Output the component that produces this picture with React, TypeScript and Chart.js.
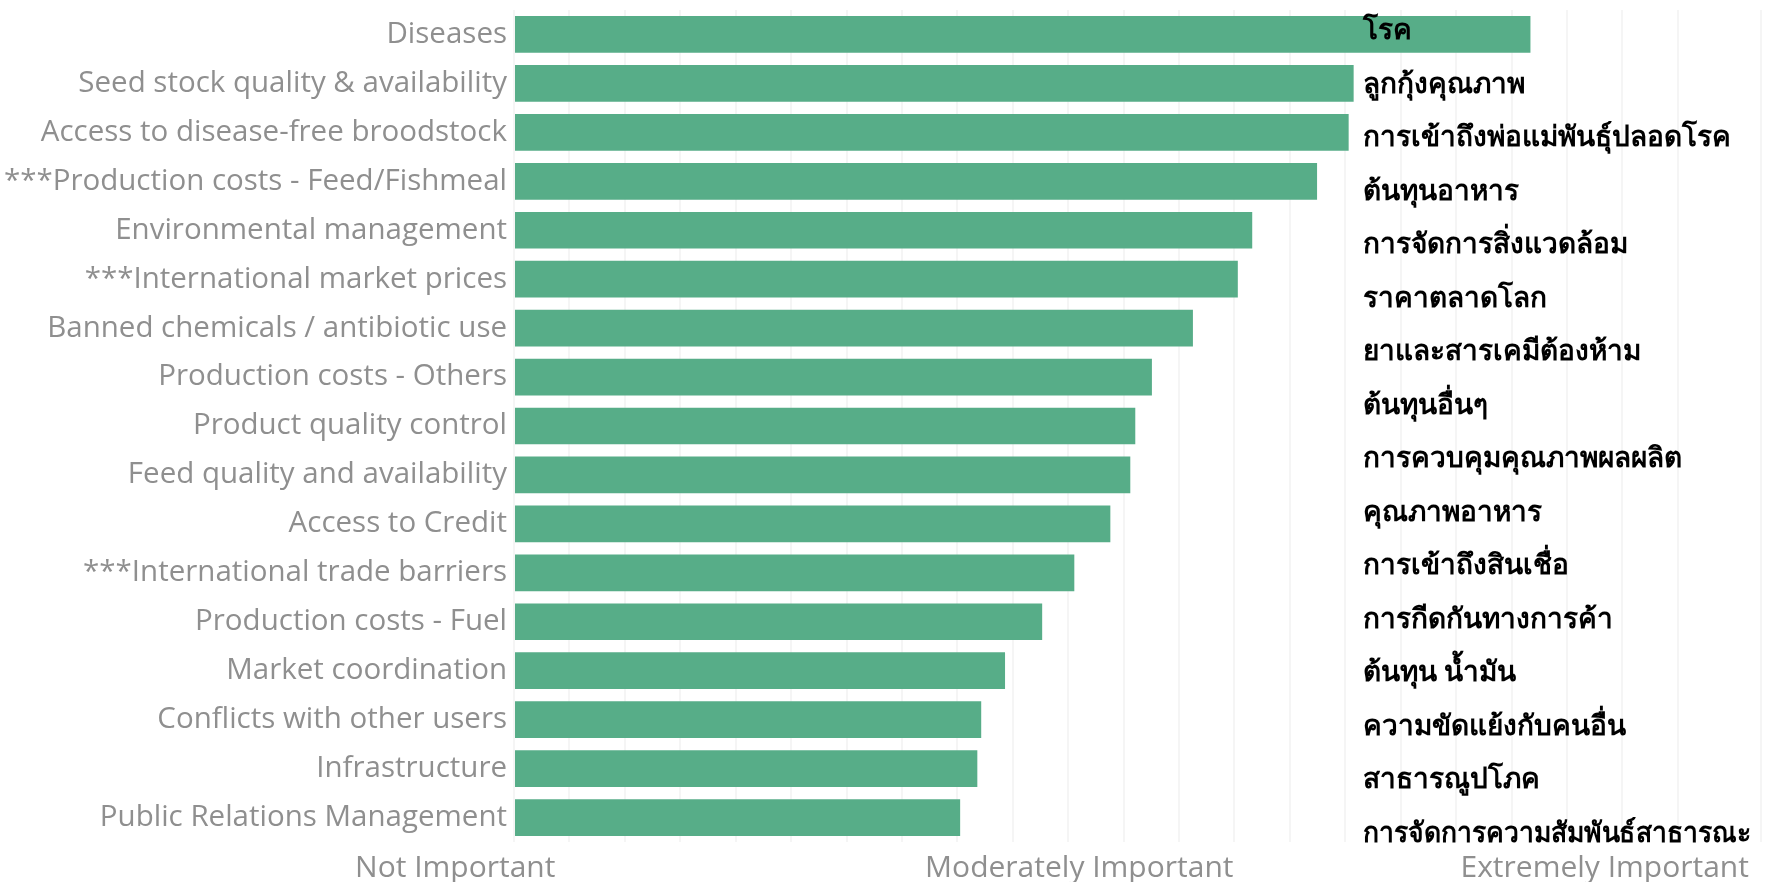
import React, { useEffect, useRef } from 'react';
import { Chart, registerables } from 'chart.js';

Chart.register(...registerables);

// Issues (English labels shown on the left axis)
const categories: string[] = [
  'Diseases',
  'Seed stock quality & availability',
  'Access to disease-free broodstock',
  '***Production costs - Feed/Fishmeal',
  'Environmental management',
  '***International market prices',
  'Banned chemicals / antibiotic use',
  'Production costs - Others',
  'Product quality control',
  'Feed quality and availability',
  'Access to Credit',
  '***International trade barriers',
  'Production costs - Fuel',
  'Market coordination',
  'Conflicts with other users',
  'Infrastructure',
  'Public Relations Management',
];

// Thai translations written over the chart (their own evenly spaced list)
const thaiLabels: string[] = [
  'โรค',
  'ลูกกุ้งคุณภาพ',
  'การเข้าถึงพ่อแม่พันธุ์ปลอดโรค',
  'ต้นทุนอาหาร',
  'การจัดการสิ่งแวดล้อม',
  'ราคาตลาดโลก',
  'ยาและสารเคมีต้องห้าม',
  'ต้นทุนอื่นๆ',
  'การควบคุมคุณภาพผลผลิต',
  'คุณภาพอาหาร',
  'การเข้าถึงสินเชื่อ',
  'การกีดกันทางการค้า',
  'ต้นทุน น้ำมัน',
  'ความขัดแย้งกับคนอื่น',
  'สาธารณูปโภค',
  'การจัดการความสัมพันธ์สาธารณะ',
];

// Importance score (bar length, in axis units; one gridline per unit)
const importance: number[] = [
  18.34, 15.15, 15.06, 14.49, 13.32, 13.06, 12.25, 11.51, 11.21,
  11.12, 10.76, 10.11, 9.53, 8.86, 8.43, 8.36, 8.05,
];

// Bottom axis tick labels and where they sit on the value axis
const axisTickLabels: string[] = ['Not Important', 'Moderately Important', 'Extremely Important'];
const axisTickValues: number[] = [-1.06, 10.2, 19.68];

const AXIS_MIN = 0;
const AXIS_MAX = 22.5;
// Thai column: x position on the value axis, rows in bar-index units
const THAI_LABEL_VALUE = 15.32;
const THAI_ROW_START = -0.05;
const THAI_ROW_STEP = 1.093;

const BAR_COLOR = '#57ad88';
const LABEL_COLOR = '#8f8f8f';
const LABEL_FONT = '"Open Sans"';
const THAI_FONT = 'serif';

const thaiLabelPlugin = {
  id: 'thaiLabels',
  afterDatasetsDraw(chart: any) {
    const { ctx, scales } = chart;
    const x = scales.x;
    const y = scales.y;
    ctx.save();
    ctx.font = `bold 28px ${THAI_FONT}`;
    ctx.fillStyle = '#000000';
    ctx.textAlign = 'left';
    ctx.textBaseline = 'middle';
    const px = x.getPixelForValue(THAI_LABEL_VALUE);
    const maxW = chart.width - px - 24;
    thaiLabels.forEach((t, i) => {
      ctx.fillText(t, px, y.getPixelForValue(THAI_ROW_START + i * THAI_ROW_STEP), maxW);
    });
    ctx.restore();
  },
};

export default function App() {
  const canvasRef = useRef<HTMLCanvasElement | null>(null);

  useEffect(() => {
    if (!canvasRef.current) return;
    const chart = new Chart(canvasRef.current, {
      type: 'bar',
      data: {
        labels: categories,
        datasets: [
          {
            data: importance,
            backgroundColor: BAR_COLOR,
            borderWidth: 0,
            categoryPercentage: 1,
            barPercentage: 0.75,
          },
        ],
      },
      options: {
        indexAxis: 'y',
        animation: false,
        responsive: false,
        maintainAspectRatio: false,
        layout: { padding: { top: 10, right: 14, bottom: 0, left: 0 } },
        plugins: {
          legend: { display: false },
          tooltip: { enabled: false },
        },
        scales: {
          y: {
            type: 'category',
            position: 'left',
            grid: { display: false, drawTicks: false },
            border: { display: false },
            ticks: {
              color: LABEL_COLOR,
              font: { family: LABEL_FONT, size: 29.5 },
              padding: 7,
              autoSkip: false,
            },
            afterFit: (scale: any) => {
              scale.width = 514;
              scale.paddingTop = 0;
              scale.paddingBottom = 0;
            },
          },
          x: {
            type: 'linear',
            position: 'bottom',
            min: AXIS_MIN,
            max: AXIS_MAX,
            grid: {
              display: true,
              color: 'rgba(0,0,0,0.04)',
              lineWidth: 2,
              drawTicks: false,
            },
            border: { display: false },
            ticks: { display: false, stepSize: 1 },
          },
          x2: {
            type: 'linear',
            position: 'bottom',
            min: AXIS_MIN,
            max: AXIS_MAX,
            grid: { display: false, drawTicks: false },
            border: { display: false },
            afterBuildTicks: (scale: any) => {
              scale.ticks = axisTickValues.map((v) => ({ value: v }));
            },
            ticks: {
              autoSkip: false,
              maxRotation: 0,
              color: LABEL_COLOR,
              font: { family: LABEL_FONT, size: 30 },
              padding: 8,
              callback: (_v: any, i: number) => axisTickLabels[i],
            },
            afterFit: (scale: any) => {
              scale.height = 40;
              scale.paddingLeft = 0;
              scale.paddingRight = 0;
            },
          },
        },
      },
      plugins: [thaiLabelPlugin],
    });
    return () => chart.destroy();
  }, []);

  return (
    <div style={{ position: 'fixed', left: 0, top: 0, width: 1775, height: 882, background: '#ffffff' }}>
      <canvas ref={canvasRef} width={1775} height={882} style={{ display: 'block' }} />
    </div>
  );
}
